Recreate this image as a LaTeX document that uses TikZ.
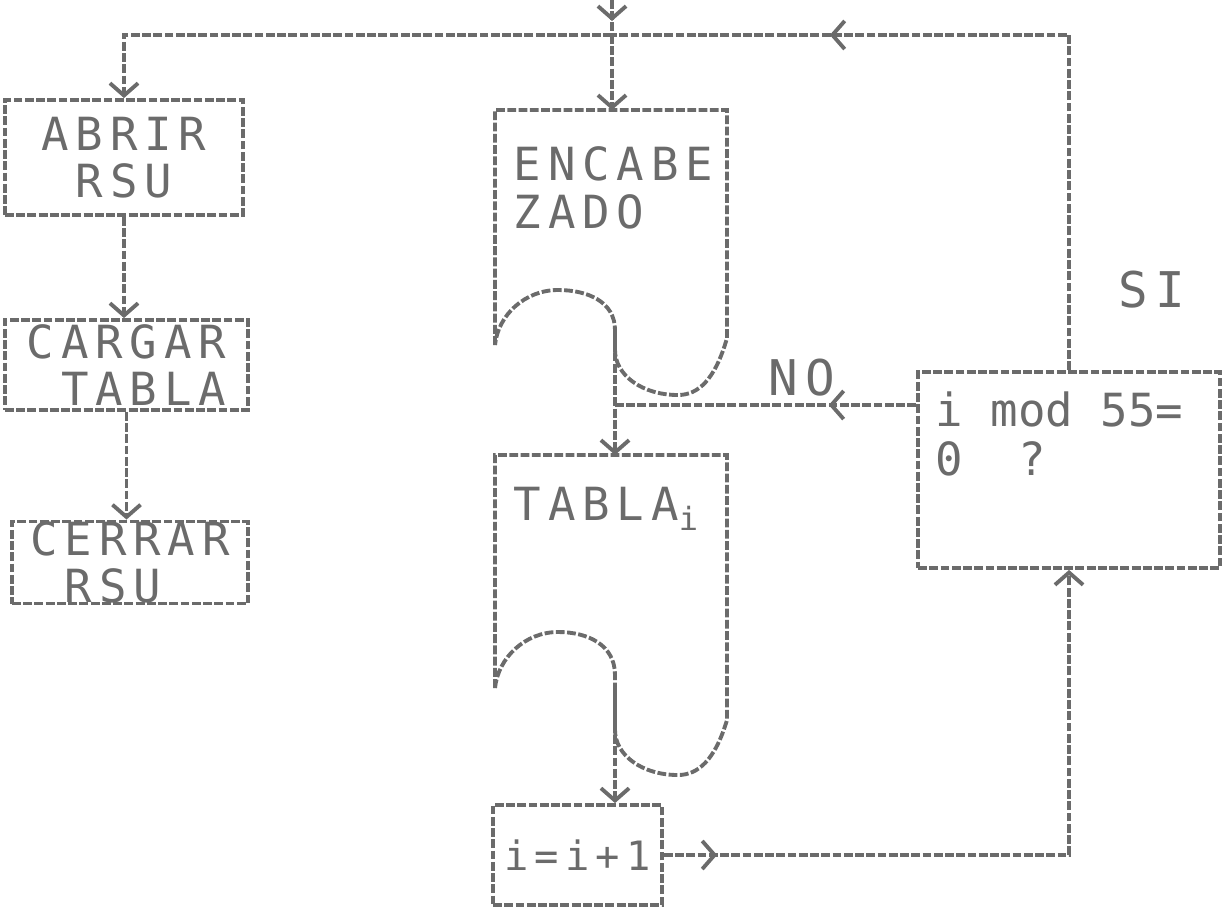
\documentclass[tikz,border=0pt]{standalone}
\usepackage{fontspec}
\newfontfamily\dotfont[LetterSpace=15]{DejaVu Sans Mono}
\newfontfamily\dotplain{DejaVu Sans Mono}
\usetikzlibrary{arrows.meta,decorations.markings}
\definecolor{inkgray}{gray}{0.42}
\tikzset{
  flow/.style={draw=inkgray, line width=1.1pt, dash pattern=on 2.5pt off 0.7pt},
  tip/.style={-{Straight Barb[length=3.5pt,width=8pt]}},
  midtip/.style={postaction={decorate},
    decoration={markings, mark=at position #1 with {\arrow{Straight Barb[length=3.5pt,width=8pt]}}}},
  box/.style={flow, rectangle, inner sep=0pt, align=left, text=inkgray,
    font=\dotfont\fontsize{13}{13.5}\selectfont},
  lbl/.style={text=inkgray, inner sep=0pt, font=\dotfont\fontsize{14}{15}\selectfont}
}
\begin{document}
\begin{tikzpicture}
\useasboundingbox (0,0) rectangle (12.22,-9.09);
% left column
\node[box, minimum width=2.38cm, minimum height=1.15cm] (abrir) at (1.24,-1.575) {ABRIR\\~RSU};
\node[box, minimum width=2.43cm, minimum height=0.9cm] (cargar) at (1.265,-3.65) {CARGAR\\~TABLA};
\node[box, minimum width=2.36cm, minimum height=0.75cm] (cerrar) at (1.30,-5.625) {CERRAR\\~RSU};
% documents
\draw[flow] (4.95,-3.45) -- (4.95,-1.1) -- (7.27,-1.1) -- (7.27,-3.38)
  .. controls (7.15,-3.8) and (6.98,-3.95) .. (6.78,-3.95)
  .. controls (6.42,-3.95) and (6.15,-3.75) .. (6.15,-3.5)
  -- (6.15,-3.3)
  .. controls (6.15,-3.02) and (5.88,-2.9) .. (5.58,-2.9)
  .. controls (5.25,-2.9) and (4.98,-3.15) .. (4.95,-3.45);
\node[box, draw=none, anchor=north west] (enc) at (5.12,-1.45) {ENCABE\\ZADO};
\draw[flow] (4.95,-6.88) -- (4.95,-4.55) -- (7.27,-4.55) -- (7.27,-7.2)
  .. controls (7.15,-7.6) and (6.98,-7.75) .. (6.78,-7.75)
  .. controls (6.42,-7.75) and (6.15,-7.55) .. (6.15,-7.3)
  -- (6.15,-6.75)
  .. controls (6.15,-6.45) and (5.88,-6.32) .. (5.58,-6.32)
  .. controls (5.25,-6.32) and (4.98,-6.58) .. (4.95,-6.88);
\node[box, draw=none, anchor=north west] (tabla) at (5.12,-4.85) {TABLA\textsubscript{i}};
\node[box, minimum width=1.69cm, minimum height=1.0cm, font=\dotfont\fontsize{11.5}{12}\selectfont] (inc) at (5.775,-8.55) {i=i+1};
% decision
\node[box, minimum width=3.02cm, minimum height=1.96cm] (dec) at (10.69,-4.70) {};
\node[box, draw=none, anchor=north west, font=\dotplain\fontsize{13}{14}\selectfont] (dectxt) at (9.34,-3.9) {i mod 55=\\0~~?};
\node[lbl] (si) at (11.52,-2.9) {SI};
\node[lbl] (no) at (8.02,-3.78) {NO};
% connectors
\coordinate (start) at (6.12,0);
\coordinate (topj) at (6.12,-0.35);
\coordinate (enctop) at (6.12,-1.1);
\coordinate (encwave) at (6.15,-3.3);
\coordinate (nojoin) at (6.15,-4.05);
\coordinate (tablatop) at (6.15,-4.55);
\coordinate (tablawave) at (6.15,-6.9);
\draw[flow, midtip=0.6] (start) -- (topj);
\draw[flow, tip] (topj) -| (abrir.north);
\draw[flow, tip] (topj) -- (enctop);
\draw[flow, tip] (abrir.south) -- (abrir.south |- cargar.north);
\draw[flow, tip] (cargar.south) -- (cargar.south |- cerrar.north);
\draw[flow, tip] (encwave) -- (tablatop);
\draw[flow, midtip=0.29] (dec.west |- nojoin) -- (nojoin);
\draw[flow, tip] (tablawave) -- (tablawave |- inc.north);
\draw[flow, tip, midtip=0.077] (inc.east) -| (dec.south);
\draw[flow, midtip=0.725] (dec.north) |- (topj);
\end{tikzpicture}
\end{document}
